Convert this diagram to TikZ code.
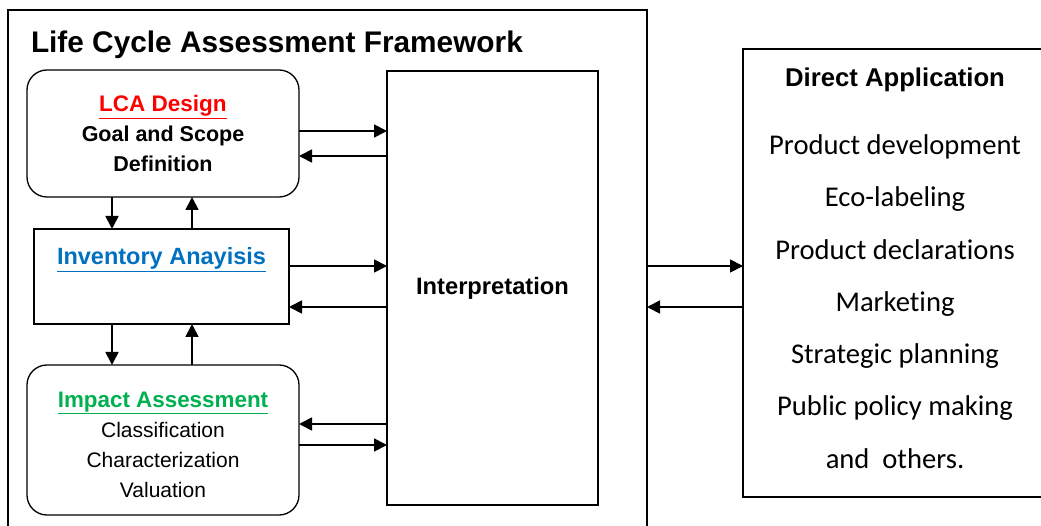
\documentclass[tikz,border=0pt]{standalone}
\usepackage{fontspec}
\setmainfont{Liberation Sans}
\newfontfamily\calibri[Ligatures={NoCommon}]{Carlito}
\usetikzlibrary{arrows.meta}
\usetikzlibrary{positioning}
\definecolor{lcared}{RGB}{255,0,0}
\definecolor{invblue}{RGB}{0,112,192}
\definecolor{impgreen}{RGB}{0,176,80}

\begin{document}
\begin{tikzpicture}[x=1pt,y=-1pt]
      \tikzstyle{every node}=[inner sep=0pt, outer sep=0pt]
      \tikzstyle{stage}=[draw, line width=1.3pt, rounded corners=20pt]
      \tikzstyle{plain}=[draw, line width=1.3pt]
      \tikzstyle{flow}=[line width=1.8pt, -{Triangle[length=13pt,width=13pt]}]
      \tikzstyle{head}=[align=center]
      \useasboundingbox (0,0) rectangle (1041,526);

      \node[plain, anchor=north west, minimum width=639pt, minimum height=540pt] (frame) at (8,10) {};
      \node[anchor=base west, font=\fontsize{29.8}{34}\selectfont\bfseries] (title) at (31,53) {Life Cycle Assessment Framework};

      \node[stage, minimum width=272pt, minimum height=127pt] (lca) at (163,133.5) {};
      \node[plain, minimum width=255pt, minimum height=95pt] (inv) at (161.5,276.5) {};
      \node[stage, minimum width=272pt, minimum height=150pt] (imp) at (163,440) {};
      \node[plain, minimum width=211pt, minimum height=434pt, head, font=\fontsize{23.7}{30}\selectfont\bfseries] (interp) at (492.5,288) {Interpretation};
      \node[plain, anchor=north west, minimum width=310pt, minimum height=448pt] (app) at (743,49) {};

      \node[head, anchor=base, font=\fontsize{21.5}{30}\selectfont\bfseries] (lcatext) at (163,172) {\textcolor{lcared}{\underline{\fontsize{22.5}{30}\selectfont LCA Design}}\\Goal and Scope\\Definition};
      \node[head, anchor=base, font=\fontsize{23.5}{30}\selectfont\bfseries] (invtext) at (161.5,265) {\textcolor{invblue}{\underline{Inventory Anayisis}}};
      \node[head, anchor=base, font=\fontsize{21}{30}\selectfont] (imptext) at (163,497) {\textcolor{impgreen}{\underline{\fontsize{22.4}{30}\selectfont\bfseries Impact Assessment}}\\Classification\\Characterization\\Valuation};
      \node[head, anchor=base, font=\fontsize{25.7}{30}\selectfont\bfseries] (apptitle) at (895,87) {Direct Application};
      \node[align=center, font=\calibri\fontsize{28.6}{52.3}\selectfont] (applist) at (895,301.5) {Product development\\Eco-labeling\\Product declarations\\Marketing\\Strategic planning\\Public policy making\\and\ \ others.};

      \draw[flow] ([yshift=2.5pt]lca.east) -- ([yshift=2.5pt]lca.east -| interp.west);
      \draw[flow] ([yshift=-22.5pt]lca.east -| interp.west) -- ([yshift=-22.5pt]lca.east);
      \draw[flow] ([yshift=10.5pt]inv.east) -- ([yshift=10.5pt]inv.east -| interp.west);
      \draw[flow] ([yshift=-30.5pt]inv.east -| interp.west) -- ([yshift=-30.5pt]inv.east);
      \draw[flow] ([yshift=16pt]imp.east -| interp.west) -- ([yshift=16pt]imp.east);
      \draw[flow] ([yshift=-5pt]imp.east) -- ([yshift=-5pt]imp.east -| interp.west);

      \draw[flow] ([xshift=-51pt]lca.south) -- ([xshift=-51pt]lca.south |- inv.north);
      \draw[flow] ([xshift=29pt]lca.south |- inv.north) -- ([xshift=29pt]lca.south);
      \draw[flow] ([xshift=-49.5pt]inv.south) -- ([xshift=-49.5pt]inv.south |- imp.north);
      \draw[flow] ([xshift=30.5pt]inv.south |- imp.north) -- ([xshift=30.5pt]inv.south);

      \draw[flow] ([yshift=22pt]interp.east -| frame.east) -- ([yshift=22pt]interp.east -| app.west);
      \draw[flow] ([yshift=-19pt]interp.east -| app.west) -- ([yshift=-19pt]interp.east -| frame.east);
\end{tikzpicture}
\end{document}
